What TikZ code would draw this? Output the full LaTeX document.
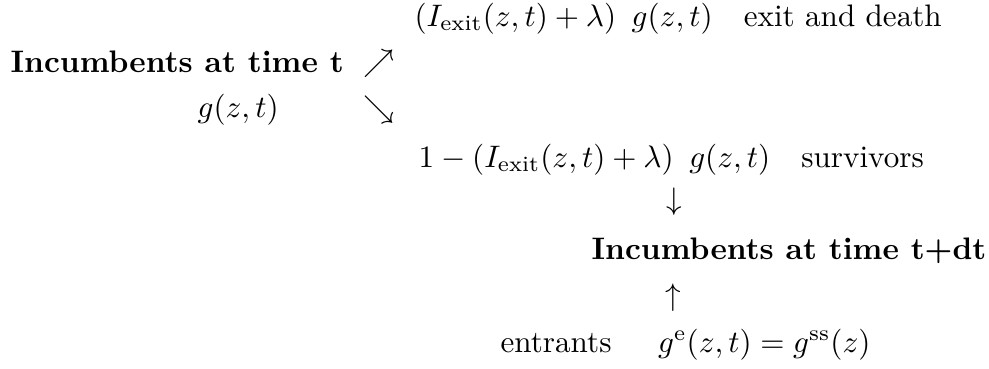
\documentclass[tikz,border=0pt]{standalone}
\usepackage{amsmath}
\usepackage{amssymb}
\usepackage{tikz}

\tikzset{
    txt/.style={anchor=base west, inner sep=0pt},
    flow/.style={anchor=center, inner sep=0pt}
}

\begin{document}
\begin{tikzpicture}[scale=1.13]
    \useasboundingbox (0,0) rectangle (9.89,3.68);

    \node[txt] (exit) at (4.14, 3.42)
        {$(I_{\text{exit}}(z,t)+\lambda)\enspace g(z,t)$\quad exit and death};
    \node[txt] (inct) at (0.10, 2.96) {\textbf{Incumbents at time t}};
    \node[txt] (gzt) at (1.97, 2.51) {$g(z,t)$};

    \node[flow] (up1) at (3.79, 3.04) {$\nearrow$};
    \node[flow] (dn1) at (3.79, 2.58) {$\searrow$};

    \node[txt] (surv) at (4.18, 2.01)
        {$1-(I_{\text{exit}}(z,t)+\lambda)\enspace g(z,t)$\quad survivors};
    \node[flow] (dn2) at (6.74, 1.66) {$\downarrow$};
    \node[txt] (inctdt) at (5.91, 1.09) {\textbf{Incumbents at time t+dt}};
    \node[flow] (up2) at (6.73, 0.70) {$\uparrow$};
    \node[txt] (entr) at (5.00, 0.16)
        {entrants\quad\, $g^{\text{e}}(z,t)=g^{\text{ss}}(z)$};
\end{tikzpicture}
\end{document}
